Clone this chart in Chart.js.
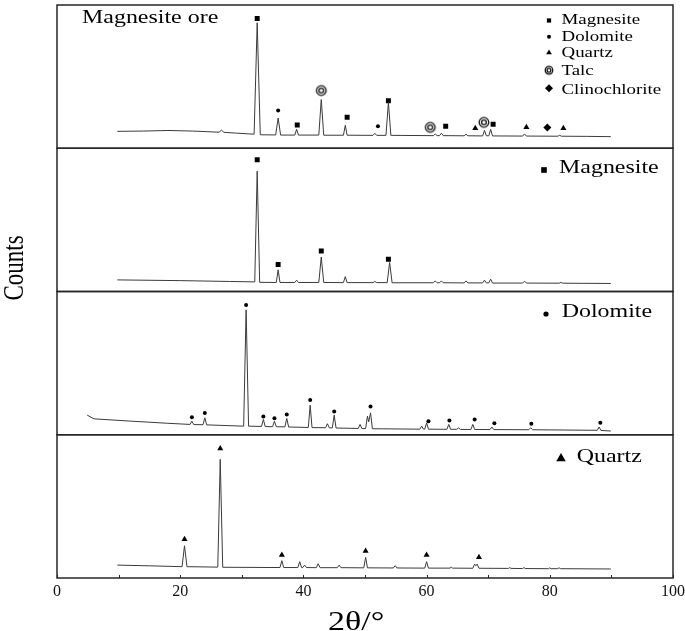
<!DOCTYPE html>
<html>
<head>
<meta charset="utf-8">
<script src="https://cdn.jsdelivr.net/npm/chart.js@4.4.1/dist/chart.umd.min.js"></script>
<style>
  html, body { margin: 0; padding: 0; background: #fff; }
  #wrap { width: 685px; height: 631px; }
</style>
</head>
<body>
<div id="wrap"><canvas id="xrd" width="685" height="631"></canvas></div>
<script>
// XRD traces, [2θ, counts] in panel units (0..100 = panel height)
const oreTrace = [
  [9.8, 11.8], [14, 12.0], [18, 12.4], [22, 12.0], [26.3, 11.2], [26.7, 12.6], [27.1, 11.1],
  [29, 10.6], [32.0, 9.8], [32.5, 87.6], [33.0, 9.4], [35.5, 9.3], [35.9, 21.1], [36.3, 9.2],
  [38.6, 9.2], [38.9, 13.2], [39.2, 9.2], [42.5, 9.2], [42.9, 34], [43.3, 9.1], [46.5, 9.1],
  [46.8, 16], [47.1, 9.1], [51.3, 9.0], [51.6, 10.4], [51.9, 9.0], [53.4, 9.0], [53.8, 32],
  [54.2, 9.0], [61.1, 8.8], [61.4, 10.0], [61.7, 8.8], [62.1, 8.8], [62.4, 10.5], [62.7, 8.8],
  [66.1, 8.7], [66.4, 9.8], [66.7, 8.7], [69.1, 8.6], [69.4, 12.5], [69.7, 8.7], [70.1, 8.7],
  [70.4, 13.2], [70.7, 8.6], [75.6, 8.5], [75.9, 10.0], [76.2, 8.5], [81.3, 8.4], [81.6, 9.0],
  [81.9, 8.4], [86, 8.3], [89.9, 8.1],
];
const magnesiteTrace = [
  [9.8, 8.1], [20, 7.6], [28, 7.0], [32.1, 6.7], [32.5, 84], [32.9, 6.4], [35.6, 6.3],
  [35.9, 15.1], [36.2, 6.3], [38.6, 6.3], [38.9, 7.9], [39.2, 6.3], [42.5, 6.3], [42.9, 24.1],
  [43.3, 6.3], [46.5, 6.2], [46.8, 10.4], [47.1, 6.2], [51.3, 6.2], [51.6, 7.0], [51.9, 6.2],
  [53.6, 6.2], [54.0, 20.2], [54.4, 6.1], [61.1, 6.1], [61.4, 7.4], [61.7, 6.1], [62.1, 6.1],
  [62.4, 7.4], [62.7, 6.1], [66.1, 6.0], [66.4, 7.4], [66.7, 6.0], [69.1, 6.0], [69.4, 7.9],
  [69.7, 6.0], [70.1, 6.0], [70.4, 8.6], [70.7, 5.9], [75.6, 5.9], [75.9, 7.2], [76.2, 5.9],
  [81.5, 5.8], [81.8, 6.3], [82.1, 5.8], [89.9, 5.6],
];
const dolomiteTrace = [
  [4.9, 13.7], [6.0, 11.1], [12, 9.5], [18, 8.0], [21.6, 7.2], [21.9, 9.5], [22.2, 7.1],
  [23.7, 7.0], [24.0, 11.8], [24.3, 6.9], [30.3, 6.0], [30.7, 87.2], [31.1, 6.0], [33.2, 5.8],
  [33.5, 10.7], [33.8, 5.7], [35.0, 5.6], [35.3, 9.5], [35.6, 5.6], [37.0, 5.5], [37.3, 11.4],
  [37.6, 5.4], [40.8, 5.1], [41.1, 20.6], [41.4, 5.0], [43.6, 4.9], [43.9, 7.7], [44.2, 4.8],
  [44.7, 4.8], [45.0, 13.7], [45.3, 4.7], [48.9, 4.4], [49.2, 7.2], [49.5, 4.3], [50.1, 4.3],
  [50.4, 13], [50.6, 9], [50.9, 15.3], [51.2, 4.2], [58.9, 3.9], [59.2, 6.0], [59.5, 3.9],
  [59.7, 3.9], [60.0, 8.3], [60.3, 3.9], [63.3, 3.8], [63.6, 7.2], [63.9, 3.8], [64.9, 3.8],
  [65.2, 4.8], [65.5, 3.7], [67.2, 3.7], [67.5, 7.2], [67.8, 3.7], [70.3, 3.6], [70.6, 5.4],
  [70.9, 3.6], [76.6, 3.5], [76.9, 4.9], [77.2, 3.5], [87.7, 3.1], [88.0, 5.4], [88.3, 3.0],
  [89.9, 2.6],
];
const quartzTrace = [
  [9.8, 9.0], [15, 8.5], [20.3, 7.9], [20.7, 22.5], [21.1, 7.9], [26.1, 7.6], [26.5, 82.8],
  [26.9, 7.5], [36.2, 7.3], [36.5, 12.1], [36.8, 7.3], [39.1, 7.3], [39.4, 11.4], [39.7, 7.3],
  [39.9, 7.3], [40.2, 9.0], [40.5, 7.3], [42.1, 7.2], [42.4, 10.0], [42.7, 7.2], [45.5, 7.2],
  [45.8, 9.0], [46.1, 7.2], [49.8, 7.1], [50.1, 14.4], [50.4, 7.1], [54.6, 7.0], [54.9, 8.6],
  [55.2, 7.0], [59.7, 6.9], [60.0, 11.4], [60.3, 6.9], [63.8, 6.9], [64.0, 7.6], [64.2, 6.9],
  [67.5, 6.8], [67.8, 9.7], [68.0, 8.6], [68.2, 9.7], [68.5, 6.8], [73.3, 6.7], [73.5, 7.3],
  [73.7, 6.7], [75.6, 6.6], [75.8, 7.3], [76.0, 6.6], [79.8, 6.5], [80.0, 7.1], [80.2, 6.5],
  [81.3, 6.5], [81.5, 7.2], [81.7, 6.5], [89.9, 6.3],
];

// phase markers above the peaks
const oreMagnesite = [[32.5, 90.6], [39.0, 16.2], [47.1, 21.6], [53.8, 33.2], [63.1, 15.3], [70.8, 16.7]];
const oreDolomite = [[35.9, 26.4], [52.1, 15.3]];
const oreQuartz = [[67.9, 13.9], [76.2, 14.6], [82.2, 13.9]];
const oreTalc = [[42.9, 40.3], [60.6, 14.6], [69.3, 18.1]];
const oreClinochlorite = [[79.6, 14.4]];
const magnesiteMarks = [[32.5, 92], [35.9, 18.8], [42.9, 28.3], [53.8, 22.5]];
const dolomiteMarks = [
  [21.9, 12.3], [24.0, 15.1], [30.7, 90.6], [33.5, 12.7], [35.3, 11.6], [37.3, 14.1], [41.1, 24.3],
  [45.0, 16.2], [50.9, 19.7], [60.3, 9.5], [63.7, 9.9], [67.8, 10.7], [71.0, 8.1], [77.0, 7.7], [88.2, 8.3],
];
const quartzMarks = [[20.7, 27.1], [26.5, 90.4], [36.5, 16.0], [50.1, 18.8], [60.0, 16.0], [68.5, 14.4]];

const phaseNames = ['Magnesite', 'Dolomite', 'Quartz', 'Talc', 'Clinochlorite'];
const panelTitles = ['Magnesite ore', 'Magnesite', 'Dolomite', 'Quartz'];

const SERIF = "'Liberation Serif', 'DejaVu Serif', serif";
const STRETCH = 1.26;

// double circle symbol used for talc
const talcMark = (outer, inner) => {
  const c = document.createElement('canvas');
  const s = Math.ceil(outer * 2 + 4);
  c.width = s;
  c.height = s;
  const g = c.getContext('2d');
  g.strokeStyle = '#111';
  g.lineWidth = 1.3;
  [outer, inner].forEach((r) => {
    g.beginPath();
    g.arc(s / 2, s / 2, r, 0, Math.PI * 2);
    g.stroke();
  });
  return c;
};
const TALC = talcMark(4.8, 2.4);
const TALC_SMALL = talcMark(3.8, 1.9);

const toXY = (arr) => arr.map(([x, y]) => ({ x, y }));

const trace = (arr, axis) => ({
  data: toXY(arr),
  yAxisID: axis,
  showLine: true,
  borderColor: '#3a3a3a',
  borderWidth: 1,
  pointRadius: 0,
  tension: 0,
});

const marks = (arr, axis, style, radius) => ({
  data: toXY(arr),
  yAxisID: axis,
  showLine: false,
  pointStyle: style,
  pointRadius: radius,
  backgroundColor: '#000',
  borderColor: '#000',
  borderWidth: 0,
});

const yPanel = () => ({
  type: 'linear',
  min: 0,
  max: 100,
  position: 'left',
  stack: 'xrd',
  stackWeight: 1,
  display: false,
});

const stretchText = (ctx, text, x, y, size) => {
  ctx.save();
  ctx.font = `${size}px ${SERIF}`;
  ctx.textAlign = 'left';
  ctx.textBaseline = 'alphabetic';
  ctx.translate(x, y);
  ctx.scale(STRETCH, 1);
  ctx.fillText(text, 0, 0);
  ctx.restore();
};

const symbol = (ctx, style, radius, x, y) => {
  Chart.helpers.drawPoint(ctx, { pointStyle: style, radius, borderWidth: 0, rotation: 0 }, x, y);
};

const panelFrames = {
  id: 'panelFrames',
  afterDatasetsDraw(chart) {
    const { ctx, chartArea: { left, right } } = chart;
    ctx.save();
    ctx.strokeStyle = '#262626';
    ctx.lineWidth = 1.5;
    ['y1', 'y2', 'y3', 'y4'].forEach((id) => {
      const s = chart.scales[id];
      ctx.strokeRect(left, s.top, right - left, s.bottom - s.top);
    });
    // inward tick marks on the 2θ axis
    const xs = chart.scales.x;
    ctx.lineWidth = 1;
    xs.ticks.forEach((t) => {
      const px = Math.round(xs.getPixelForValue(t.value)) + 0.5;
      ctx.beginPath();
      ctx.moveTo(px, xs.top);
      ctx.lineTo(px, xs.top - 3);
      ctx.stroke();
    });
    ctx.restore();
  },
};

const annotations = {
  id: 'annotations',
  afterDraw(chart) {
    const { ctx } = chart;
    ctx.save();
    ctx.fillStyle = '#000';
    stretchText(ctx, panelTitles[0], 82, 23, 19);

    // phase legend in the ore panel
    const legendStyles = [['rect', 3], ['circle', 2], ['triangle', 3.3], [TALC_SMALL, 5], ['rectRot', 4]];
    const rows = [20.5, 36.7, 52.7, 70.3, 88.3];
    const baselines = [24, 40.7, 57.3, 75, 94];
    phaseNames.forEach((name, i) => {
      symbol(ctx, legendStyles[i][0], legendStyles[i][1], 549, rows[i]);
      stretchText(ctx, name, 561.5, baselines[i], 15);
    });

    // single-phase panel labels
    symbol(ctx, 'rect', 4, 544, 170);
    stretchText(ctx, panelTitles[1], 559, 173.3, 19);
    symbol(ctx, 'circle', 2.6, 546, 314);
    stretchText(ctx, panelTitles[2], 561.7, 317.3, 19);
    symbol(ctx, 'triangle', 5.5, 561, 458.5);
    stretchText(ctx, panelTitles[3], 576.7, 462.3, 19);

    // axis titles
    ctx.save();
    ctx.translate(15, 268);
    ctx.rotate(-Math.PI / 2);
    ctx.scale(1, STRETCH);
    ctx.font = `23px ${SERIF}`;
    ctx.textAlign = 'center';
    ctx.textBaseline = 'middle';
    ctx.fillText('Counts', 0, 0);
    ctx.restore();
    stretchText(ctx, '2θ/°', 328, 630, 27);
    ctx.restore();
  },
};

new Chart(document.getElementById('xrd'), {
  type: 'scatter',
  plugins: [panelFrames, annotations],
  data: {
    datasets: [
      trace(oreTrace, 'y1'),
      marks(oreMagnesite, 'y1', 'rect', 3.5),
      marks(oreDolomite, 'y1', 'circle', 2),
      marks(oreQuartz, 'y1', 'triangle', 3.5),
      marks(oreTalc, 'y1', TALC, 5),
      marks(oreClinochlorite, 'y1', 'rectRot', 4),
      trace(magnesiteTrace, 'y2'),
      marks(magnesiteMarks, 'y2', 'rect', 3.5),
      trace(dolomiteTrace, 'y3'),
      marks(dolomiteMarks, 'y3', 'circle', 2),
      trace(quartzTrace, 'y4'),
      marks(quartzMarks, 'y4', 'triangle', 3.5),
    ],
  },
  options: {
    responsive: false,
    animation: false,
    events: [],
    layout: { padding: { left: 57, right: 12, top: 2, bottom: 0 } },
    plugins: {
      legend: { display: false },
      tooltip: { enabled: false },
    },
    scales: {
      x: {
        type: 'linear',
        min: 0,
        max: 100,
        position: 'bottom',
        afterFit: (s) => { s.height = 53; },
        ticks: {
          stepSize: 10,
          autoSkip: false,
          maxRotation: 0,
          padding: -4,
          color: '#111',
          font: { family: SERIF, size: 16 },
          callback: (v) => (v % 20 === 0 ? v : ''),
        },
        grid: { display: false },
        border: { display: false },
      },
      // stacked panels are laid out bottom-up, so the quartz panel comes first
      y4: yPanel(),
      y3: yPanel(),
      y2: yPanel(),
      y1: yPanel(),
    },
  },
});
</script>
</body>
</html>
